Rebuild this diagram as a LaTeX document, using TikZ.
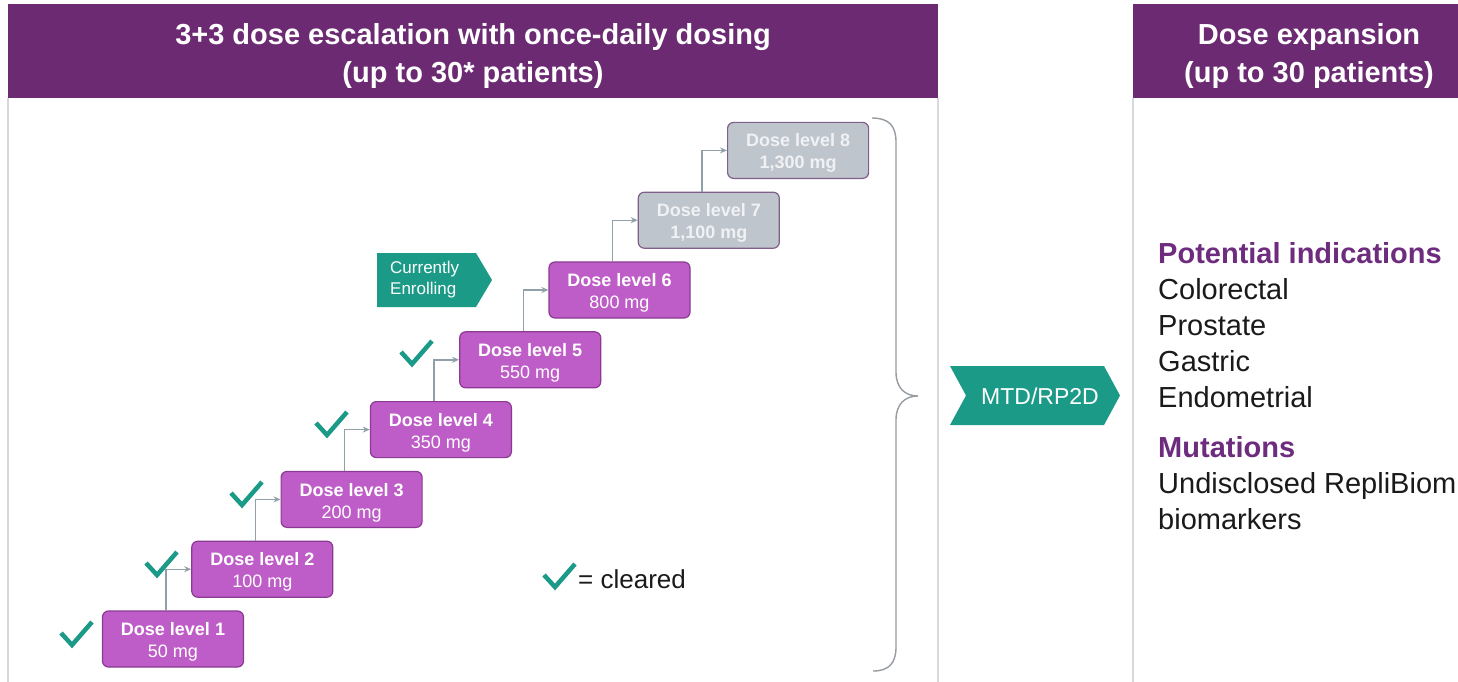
\documentclass[tikz,border=0pt]{standalone}
\usepackage{fontspec}
\setmainfont{Liberation Sans}
\usetikzlibrary{arrows.meta}
\definecolor{hdr}{RGB}{107,42,114}
\definecolor{boxfill}{RGB}{190,93,199}
\definecolor{boxedge}{RGB}{139,58,147}
\definecolor{greyfill}{RGB}{191,197,204}
\definecolor{greyedge}{RGB}{128,96,138}
\definecolor{greytext}{RGB}{240,241,244}
\definecolor{teal}{RGB}{27,154,136}
\definecolor{conn}{RGB}{143,160,168}
\definecolor{bracec}{RGB}{150,156,162}
\definecolor{panel}{RGB}{213,216,220}
\definecolor{rpurple}{RGB}{110,44,126}
\definecolor{rblack}{RGB}{26,26,26}
\newcommand\lvlstrut{\rule{0pt}{19pt}}
\tikzset{
  dosebox/.style={rounded corners=6pt, minimum width=141pt, minimum height=56pt,
    draw=boxedge, fill=boxfill, line width=1.2pt, text=white, align=center,
    font=\fontsize{18}{22}\selectfont, inner sep=0pt},
  greybox/.style={dosebox, draw=greyedge, fill=greyfill, text=greytext},
  connector/.style={draw=conn, line width=1.4pt, -{Stealth[length=7pt,width=6pt]}},
  checkst/.style={draw=teal, line width=4.5pt, line cap=butt, line join=miter},
  clearmark/.pic={\draw[checkst] (-15,0) -- (-4,12) -- (16,-11);},
  hdrtext/.style={text=white, align=center, font=\fontsize{29}{38}\selectfont\bfseries},
  rtitle/.style={anchor=base west, text=rpurple, font=\fontsize{29}{36}\selectfont\bfseries, inner sep=0pt},
  rline/.style={anchor=base west, text=rblack, font=\fontsize{29}{36}\selectfont, inner sep=0pt},
}
\begin{document}
\begin{tikzpicture}[x=1pt,y=-1pt]
\useasboundingbox (0,0) rectangle (1458,682);
\clip (0,0) rectangle (1458,682);
\fill[white] (0,0) rectangle (1458,682);
% panels
\draw[panel, line width=1.5pt] (8,98) -- (8,700);
\draw[panel, line width=1.5pt] (938,98) -- (938,700);
\draw[panel, line width=1.5pt] (1133,98) -- (1133,700);
% headers
\fill[hdr] (8,4) rectangle (938,98);
\fill[hdr] (1133,4) rectangle (1485,98);
\node[hdrtext] (h1) at (473,56) {3+3 dose escalation with once-daily dosing\\(up to 30* patients)};
\node[hdrtext] (h2) at (1309,56) {Dose expansion\\(up to 30 patients)};
% dose boxes
\node[dosebox] (d1) at (173,639) {\lvlstrut\textbf{Dose level 1}\\50 mg};
\node[dosebox] (d2) at (262.3,569.2) {\lvlstrut\textbf{Dose level 2}\\100 mg};
\node[dosebox] (d3) at (351.6,499.4) {\lvlstrut\textbf{Dose level 3}\\200 mg};
\node[dosebox] (d4) at (440.9,429.6) {\lvlstrut\textbf{Dose level 4}\\350 mg};
\node[dosebox] (d5) at (530.2,359.8) {\lvlstrut\textbf{Dose level 5}\\550 mg};
\node[dosebox] (d6) at (619.5,290) {\lvlstrut\textbf{Dose level 6}\\800 mg};
\node[greybox] (d7) at (708.8,220.2) {\lvlstrut\textbf{Dose level 7}\\\textbf{1,100 mg}};
\node[greybox] (d8) at (798.1,150.4) {\lvlstrut\textbf{Dose level 8}\\\textbf{1,300 mg}};
% connectors
\draw[connector] ([xshift=-7pt]d1.north) |- (d2.west);
\draw[connector] ([xshift=-7pt]d2.north) |- (d3.west);
\draw[connector] ([xshift=-7pt]d3.north) |- (d4.west);
\draw[connector] ([xshift=-7pt]d4.north) |- (d5.west);
\draw[connector] ([xshift=-7pt]d5.north) |- (d6.west);
\draw[connector] ([xshift=-7pt]d6.north) |- (d7.west);
\draw[connector] ([xshift=-7pt]d7.north) |- (d8.west);
% check marks
\pic at (76,633) {clearmark};
\pic at (161,563) {clearmark};
\pic at (246,493) {clearmark};
\pic at (331,423) {clearmark};
\pic at (416,352) {clearmark};
% legend
\pic at (559,575) {clearmark};
\node[anchor=base west, inner sep=0pt, text=rblack, font=\fontsize{26}{30}\selectfont] (leg) at (578,588) {= cleared};
% currently enrolling
\fill[teal] (377,253) -- (476,253) -- (492,280) -- (476,307) -- (377,307) -- cycle;
\node[anchor=west, inner sep=0pt, align=left, text=white, font=\fontsize{17}{21}\selectfont] (ce) at (390,280) {Currently\\Enrolling};
% brace
\draw[bracec, line width=1.4pt] (872,118) .. controls (889,118) and (896,126) .. (896,142)
  -- (896,372) .. controls (896,388) and (905,396) .. (918,396)
  .. controls (905,396) and (896,404) .. (896,420)
  -- (896,647) .. controls (896,663) and (889,671) .. (873,671);
% MTD arrow
\fill[teal] (950,366) -- (1104,366) -- (1120,395.5) -- (1104,425) -- (950,425) -- (966,395.5) -- cycle;
\node[text=white, font=\fontsize{23}{27}\selectfont, inner sep=0pt] (mtd) at (1040,396) {MTD/RP2D};
% right text
\node[rtitle] (r1) at (1158,263) {Potential indications};
\node[rline] (r2) at (1158,299) {Colorectal};
\node[rline] (r3) at (1158,335) {Prostate};
\node[rline] (r4) at (1158,371) {Gastric};
\node[rline] (r5) at (1158,407) {Endometrial};
\node[rtitle] (r6) at (1158,457) {Mutations};
\node[rline] (r7) at (1158,493) {Undisclosed RepliBiom};
\node[rline] (r8) at (1158,529) {biomarkers};
\end{tikzpicture}
\end{document}
